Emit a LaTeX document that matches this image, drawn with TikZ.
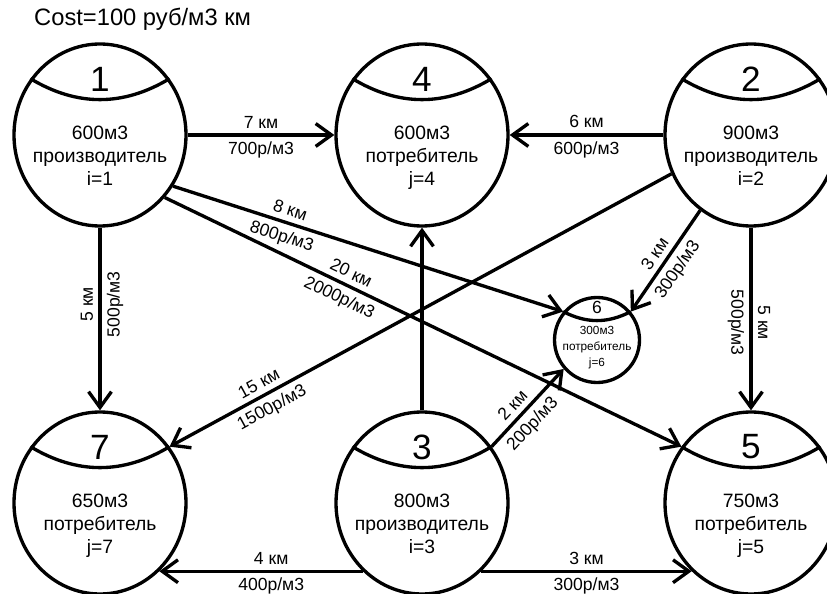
\documentclass[tikz,border=0pt]{standalone}
\usepackage{fontspec}
\setmainfont{Liberation Sans}
\usetikzlibrary{arrows.meta,shapes.geometric}

\begin{document}
\begin{tikzpicture}[
  uzel/.style={draw,ellipse,line width=1.9pt,minimum width=3.44cm,minimum height=3.64cm,inner sep=0pt},
  malyi/.style={draw,circle,line width=1.9pt,minimum size=1.7cm,inner sep=0pt},
  nomer/.style={font=\fontsize{20}{24}\selectfont},
  opis/.style={anchor=north,align=center,inner sep=0pt,font=\fontsize{11}{13}\selectfont},
  duga/.style={line width=1.9pt},
  potok/.style={line width=1.9pt,-{Straight Barb[length=9pt,width=13pt]}},
  km/.style={above,inner sep=3pt,font=\fontsize{10}{12}\selectfont},
  rub/.style={below,inner sep=3pt,font=\fontsize{10}{12}\selectfont}]
\useasboundingbox (0,0) rectangle (16.54,11.86);
\clip (0,0) rectangle (16.54,11.86);
\node[anchor=base west,font=\fontsize{13.5}{16}\selectfont] (cost) at (0.56,11.34) {Cost=100 руб/м3 км};
% пункты
\node[uzel] (n1) at (2.00,9.16) {};
\node[uzel] (n4) at (8.44,9.16) {};
\node[uzel] (n2) at (15.02,9.16) {};
\node[uzel] (n7) at (2.00,1.80) {};
\node[uzel] (n3) at (8.44,1.80) {};
\node[uzel] (n5) at (15.02,1.80) {};
\node[malyi] (n6) at (11.94,5.06) {};
\draw[duga] (n1.141) to[bend right=31] (n1.39);
\draw[duga] (n4.141) to[bend right=31] (n4.39);
\draw[duga] (n2.141) to[bend right=31] (n2.39);
\draw[duga] (n7.141) to[bend right=31] (n7.39);
\draw[duga] (n3.141) to[bend right=31] (n3.39);
\draw[duga] (n5.141) to[bend right=31] (n5.39);
\draw[duga] (n6.140) to[bend right=27] (n6.40);
\node[nomer] (k1) at ([yshift=1.12cm]n1.center) {1};
\node[nomer] (k4) at ([yshift=1.12cm]n4.center) {4};
\node[nomer] (k2) at ([yshift=1.12cm]n2.center) {2};
\node[nomer] (k7) at ([yshift=1.12cm]n7.center) {7};
\node[nomer] (k3) at ([yshift=1.12cm]n3.center) {3};
\node[nomer] (k5) at ([yshift=1.12cm]n5.center) {5};
\node[font=\fontsize{10}{12}\selectfont] (k6) at ([yshift=0.66cm]n6.center) {6};
\node[opis] (t1) at ([yshift=0.18cm]n1.center) {600м3\\производитель\\i=1};
\node[opis] (t4) at ([yshift=0.18cm]n4.center) {600м3\\потребитель\\j=4};
\node[opis] (t2) at ([yshift=0.18cm]n2.center) {900м3\\производитель\\i=2};
\node[opis] (t7) at ([yshift=0.18cm]n7.center) {650м3\\потребитель\\j=7};
\node[opis] (t3) at ([yshift=0.18cm]n3.center) {800м3\\производитель\\i=3};
\node[opis] (t5) at ([yshift=0.18cm]n5.center) {750м3\\потребитель\\j=5};
\node[opis,font=\fontsize{6.7}{9}\selectfont] (t6) at ([yshift=0.28cm]n6.center) {300м3\\потребитель\\j=6};
% перевозки
\draw[potok] (n1.east) -- (n4.west) node[km,midway] (d14) {7 км} node[rub,midway] (c14) {700р/м3};
\draw[potok] (n2.west) -- (n4.east) node[km,midway] (d24) {6 км} node[rub,midway] (c24) {600р/м3};
\draw[potok] (n1.325) -- (n6.140) node[km,sloped,pos=0.29] (d16) {8 км} node[rub,sloped,pos=0.29] (c16) {800р/м3};
\draw[potok] (n1.316) -- (n5.141) node[km,sloped,pos=0.35] (d15) {20 км} node[rub,sloped,pos=0.35] (c15) {2000р/м3};
\draw[potok] (n1.south) -- (n7.north) node[km,rotate=90,pos=0.42] (d17) {5 км} node[rub,rotate=90,pos=0.42] (c17) {500р/м3};
\draw[potok] (n2.206) -- (n7.39) node[km,sloped,pos=0.81] (d27) {15 км} node[rub,sloped,pos=0.81] (c27) {1500р/м3};
\draw[potok] (n2.236) -- (n6.40) node[km,sloped,midway] (d26) {3 км} node[rub,sloped,midway] (c26) {300р/м3};
\draw[potok] (n2.south) -- (n5.north) node[km,rotate=-90,pos=0.52] (d25) {5 км} node[rub,rotate=-90,pos=0.52] (c25) {500р/м3};
\draw[potok] (n3.north) -- (n4.south);
\draw[potok] (n3.39) -- (n6.221) node[km,sloped,pos=0.42] (d36) {2 км} node[rub,sloped,pos=0.42] (c36) {200р/м3};
\draw[potok] (n3.229) -- (n7.311) node[km,pos=0.45] (d37) {4 км} node[rub,pos=0.45] (c37) {400р/м3};
\draw[potok] (n3.311) -- (n5.229) node[km,midway] (d35) {3 км} node[rub,midway] (c35) {300р/м3};
\end{tikzpicture}
\end{document}
